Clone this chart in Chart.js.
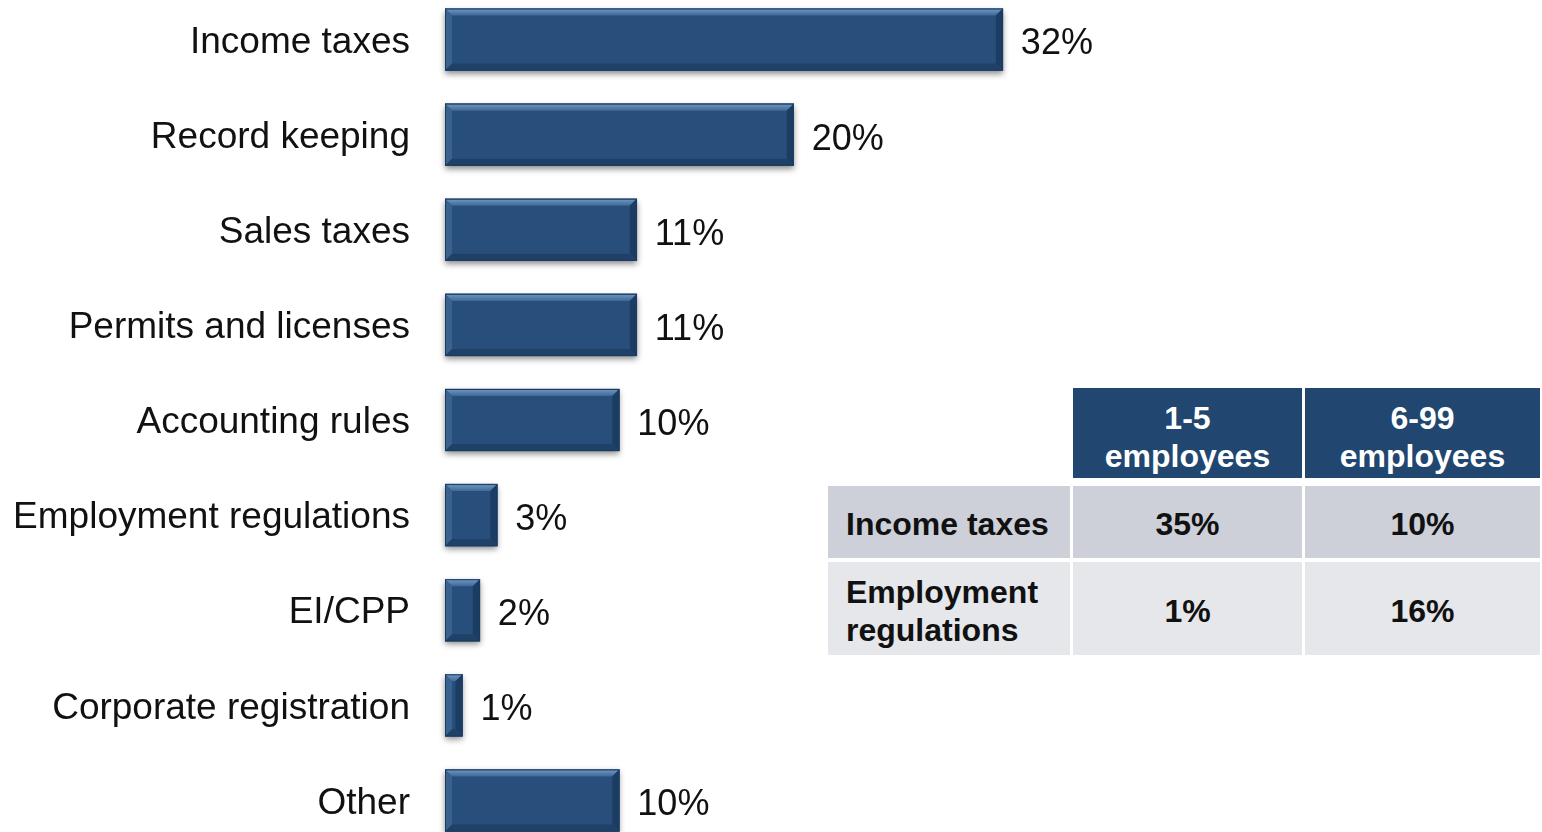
<!DOCTYPE html>
<html>
<head>
<meta charset="utf-8">
<script src="https://cdn.jsdelivr.net/npm/chart.js@4.4.1/dist/chart.umd.min.js"></script>
<style>
  html, body { margin: 0; padding: 0; background: #fff; overflow: hidden; }
  #wrap { position: absolute; left: 0; top: -8px; width: 1542px; height: 856px; }
  #tbl { position: absolute; font-family: "Liberation Sans", Arial, sans-serif; font-weight: bold; font-size: 32px; line-height: 38px; }
  #tbl div { position: absolute; box-sizing: border-box; display: flex; align-items: center; }
  .hd { background: #21466f; color: #fff; justify-content: center; text-align: center; padding-top: 8px; }
  .r1 { background: #cdd0d8; color: #111; }
  .r2 { background: #e6e7ea; color: #111; }
  .lbl { padding-left: 18px; padding-top: 4px; }
  .val { justify-content: center; padding-top: 4px; }
</style>
</head>
<body>
<div id="wrap"><canvas id="myChart" width="1542" height="856"></canvas></div>
<div id="tbl"></div>
<script>
// share of respondents naming each item
var categories = ['Income taxes', 'Record keeping', 'Sales taxes', 'Permits and licenses', 'Accounting rules',
                  'Employment regulations', 'EI/CPP', 'Corporate registration', 'Other'];
var shares = [32, 20, 11, 11, 10, 3, 2, 1, 10];

// breakdown by firm size
var tableCols = ['1-5<br>employees', '6-99<br>employees'];
var tableRows = ['Income taxes', 'Employment<br>regulations'];
var tableValues = [[35, 10], [1, 16]];

// soft shadow under each bar
var shadowPlugin = {
    id: 'barShadow',
    beforeDatasetsDraw: function(chart) {
        var ctx = chart.ctx;
        chart.getDatasetMeta(0).data.forEach(function(bar) {
            var p = bar.getProps(['x', 'y', 'base', 'height'], true);
            ctx.save();
            ctx.shadowColor = 'rgba(0,0,0,0.45)';
            ctx.shadowBlur = 6;
            ctx.shadowOffsetY = 3;
            ctx.fillStyle = '#264d78';
            ctx.fillRect(p.base, p.y - p.height / 2, p.x - p.base, p.height);
            ctx.restore();
        });
    }
};

// bevelled edges and value labels
var bevelPlugin = {
    id: 'bevel',
    afterDatasetsDraw: function(chart) {
        var ctx = chart.ctx;
        var data = chart.data.datasets[0].data;
        chart.getDatasetMeta(0).data.forEach(function(bar, i) {
            var p = bar.getProps(['x', 'y', 'base', 'height'], true);
            var l = p.base, r = p.x, t = p.y - p.height / 2, b = p.y + p.height / 2;
            var bw = Math.min(7, (r - l) / 2, p.height / 2);
            ctx.save();
            // top
            var g = ctx.createLinearGradient(0, t, 0, t + bw);
            g.addColorStop(0, '#7199c6');
            g.addColorStop(1, '#3f6895');
            ctx.fillStyle = g;
            ctx.beginPath();
            ctx.moveTo(l, t); ctx.lineTo(r, t); ctx.lineTo(r - bw, t + bw); ctx.lineTo(l + bw, t + bw);
            ctx.closePath(); ctx.fill();
            // left
            ctx.fillStyle = '#3a628f';
            ctx.beginPath();
            ctx.moveTo(l, t); ctx.lineTo(l + bw, t + bw); ctx.lineTo(l + bw, b - bw); ctx.lineTo(l, b);
            ctx.closePath(); ctx.fill();
            // right
            ctx.fillStyle = '#1c3d63';
            ctx.beginPath();
            ctx.moveTo(r, t); ctx.lineTo(r - bw, t + bw); ctx.lineTo(r - bw, b - bw); ctx.lineTo(r, b);
            ctx.closePath(); ctx.fill();
            // bottom
            ctx.fillStyle = '#1f4168';
            ctx.beginPath();
            ctx.moveTo(l, b); ctx.lineTo(r, b); ctx.lineTo(r - bw, b - bw); ctx.lineTo(l + bw, b - bw);
            ctx.closePath(); ctx.fill();
            ctx.strokeStyle = '#1b3a5e';
            ctx.lineWidth = 1;
            ctx.strokeRect(l + 0.5, t + 0.5, r - l - 1, p.height - 1);

            ctx.fillStyle = '#111';
            ctx.font = '36px "Liberation Sans", Arial, sans-serif';
            ctx.textAlign = 'left';
            ctx.textBaseline = 'middle';
            ctx.fillText(data[i] + '%', r + 18, p.y + 5);
            ctx.restore();
        });
    }
};

var ctx = document.getElementById('myChart').getContext('2d');
var myChart = new Chart(ctx, {
    type: 'bar',
    data: {
        labels: categories,
        datasets: [{
            data: shares,
            backgroundColor: '#284f7b',
            borderWidth: 0,
            barThickness: 62
        }]
    },
    options: {
        indexAxis: 'y',
        responsive: false,
        maintainAspectRatio: false,
        animation: false,
        layout: { padding: { left: 0, right: 51, top: 0, bottom: 0 } },
        plugins: { legend: { display: false }, tooltip: { enabled: false } },
        scales: {
            x: { display: false, min: 0, max: 60 },
            y: {
                grid: { display: false, drawTicks: false },
                border: { display: false },
                afterFit: function(scale) {
                    scale.width = 445;
                    // labels sit inside the bands, no extra room above or below
                    scale.paddingTop = 0;
                    scale.paddingBottom = 0;
                },
                ticks: {
                    padding: 35,
                    labelOffset: 3,
                    color: '#111',
                    font: { family: '"Liberation Sans", Arial, sans-serif', size: 37 }
                }
            }
        }
    },
    plugins: [shadowPlugin, bevelPlugin]
});

// size breakdown table
var tbl = document.getElementById('tbl');
var colX = [1073, 1305], colW = [229, 235];
var rowY = [486, 562], rowH = [72, 93];
var html = '';
tableCols.forEach(function(c, j) {
    html += '<div class="hd" style="left:' + colX[j] + 'px;top:388px;width:' + colW[j] + 'px;height:90px">' + c + '</div>';
});
tableRows.forEach(function(rname, i) {
    var cls = i == 0 ? 'r1' : 'r2';
    html += '<div class="' + cls + ' lbl" style="left:828px;top:' + rowY[i] + 'px;width:242px;height:' + rowH[i] + 'px">' + rname + '</div>';
    tableValues[i].forEach(function(v, j) {
        html += '<div class="' + cls + ' val" style="left:' + colX[j] + 'px;top:' + rowY[i] + 'px;width:' + colW[j] + 'px;height:' + rowH[i] + 'px">' + v + '%</div>';
    });
});
tbl.innerHTML = html;
</script>
</body>
</html>
